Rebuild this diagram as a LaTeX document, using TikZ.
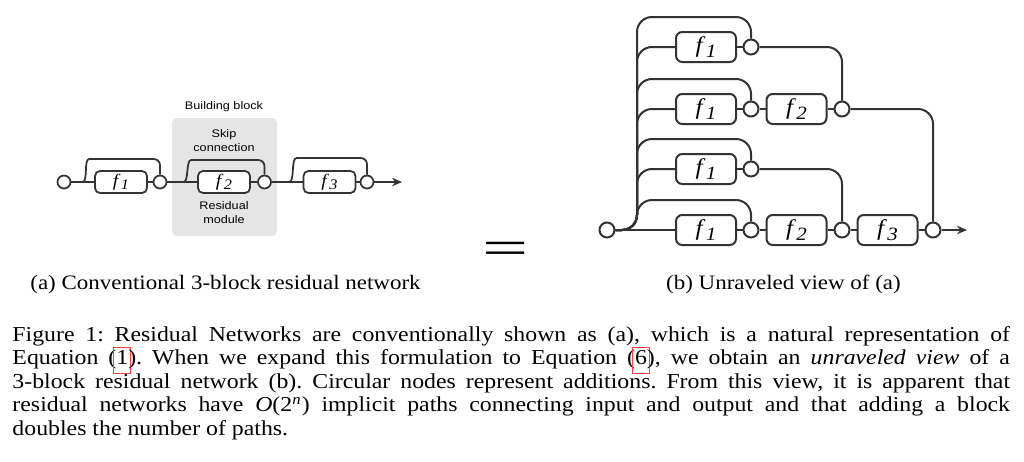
\documentclass[tikz,border=0pt]{standalone}
\usepackage{fontspec}
\setmainfont{Liberation Serif}[FakeStretch=1.12]
\setsansfont{Liberation Sans}[FakeStretch=1.15]
\usepackage{relsize}
\usetikzlibrary{arrows.meta, calc}
\newcommand{\netArrow}{{Stealth[length=4pt, width=3.4pt]}}
\newcommand{\fsub}[1]{\textit{f}\kern0.02em\raisebox{-0.45ex}{\textit{\smaller #1}}}
\newsavebox{\refbox}
\newcommand{\reflink}[1]{\sbox{\refbox}{#1}\rlap{\kern-1.2pt\smash{\raisebox{-3.4pt}{\color{red!75}\setlength{\fboxsep}{0pt}\setlength{\fboxrule}{0.35pt}\framebox[\dimexpr\wd\refbox+2.4pt\relax]{\rule{0pt}{10pt}}}}}\usebox{\refbox}}

\begin{document}
\begin{tikzpicture}[x=0.4pt, y=-0.4pt,
	lblock/.style={draw=black!80, fill=white, rounded corners=2pt, minimum width=20.8pt, minimum height=8.8pt, inner sep=0pt, font=\fontsize{7}{7}\selectfont},
	lsum/.style={draw=black!80, fill=white, circle, minimum size=5.2pt, inner sep=0pt},
	rblock/.style={draw=black!80, fill=white, rounded corners=2.5pt, minimum width=24pt, minimum height=12pt, inner sep=0pt, font=\fontsize{9}{9}\selectfont},
	rsum/.style={draw=black!80, fill=white, circle, minimum size=6pt, inner sep=0pt},
	tag/.style={font=\sffamily\fontsize{4.4}{5.6}\selectfont, align=center, inner sep=0pt},
	capfont/.style={font=\fontsize{8.5}{9.4}\selectfont\frenchspacing, inner sep=0pt}]
	\useasboundingbox (0,0) rectangle (1024,461);
	
	% (a) conventional network
	\fill[black!10, rounded corners=2pt] (172,118) rectangle (277,236);
	\node[tag] (bb) at (224,107) {Building block};
	\node[tag] (skiptag) at (224,141) {Skip\\connection};
	\node[tag] (restag) at (224,212.5) {Residual\\module};
	
	\begin{scope}[line width=0.7pt, draw=black!80]
	\node[lsum] (ain) at (64,182) {};
	\node[lblock] (af1) at (121,182) {\fsub{1}};
	\node[lsum] (as1) at (160,182) {};
	\node[lblock] (af2) at (224,182) {\fsub{2}};
	\node[lsum] (as2) at (264.5,182) {};
	\node[lblock] (af3) at (329.5,182) {\fsub{3}};
	\node[lsum] (as3) at (367,182) {};
	\coordinate (aout) at (402,182);
	
	\draw (ain) -- (af1) -- (as1) -- (af2) -- (as2) -- (af3) -- (as3);
	\draw[-\netArrow] (as3) -- (aout);
	\draw[rounded corners=2.5pt] (ain.east) -- ++(5,0) to[out=0,in=180] ++(19,-23) -| (as1.north);
	\draw[rounded corners=2.5pt] (as1.east) -- ++(10,0) to[out=0,in=180] ++(20,-22) -| (as2.north);
	\draw[rounded corners=2.5pt] (as2.east) -- ++(11,0) to[out=0,in=180] ++(20,-24) -| (as3.north);
	\end{scope}
	
	% equals sign
	\node[inner sep=0pt, font=\fontsize{19.5}{20}\selectfont] (eq) at (506,253) {\scalebox{1.5}[1]{=}};
	
	% (b) unraveled view
	\begin{scope}[line width=0.8pt, draw=black!80]
	\node[rsum] (in) at (607,230) {};
	\foreach \r/\y in {1/47, 2/109, 3/169, 4/230} {
		\node[rblock] (f1\r) at (706,\y) {\fsub{1}};
		\node[rsum] (s1\r) at (751,\y) {};
		\coordinate (k\r) at (637,\y-30);
		\draw (f1\r) -- (s1\r);
		\draw[rounded corners=6pt] (in.east) -| (k\r) -| (s1\r.north);
	}
	\foreach \r/\y in {1/47, 2/109, 3/169} {
		\coordinate (t\r) at (637,\y);
		\draw[rounded corners=6pt] (in.east) -| (t\r) -- (f1\r);
	}
	\node[rblock] (f22) at (796.5,109) {\fsub{2}};
	\node[rsum] (s22) at (842,109) {};
	\node[rblock] (f24) at (796.5,230) {\fsub{2}};
	\node[rsum] (s24) at (842,230) {};
	\node[rblock] (f34) at (887.5,230) {\fsub{3}};
	\node[rsum] (s34) at (933,230) {};
	\coordinate (out) at (967,230);
	
	\draw (in) -- (f14);
	\draw (s12) -- (f22) -- (s22);
	\draw (s14) -- (f24) -- (s24) -- (f34) -- (s34);
	\draw[-\netArrow] (s34) -- (out);
	\draw[rounded corners=6pt] (s11.east) -| (s22.north);
	\draw[rounded corners=6pt] (s13.east) -| (s24.north);
	\draw[rounded corners=6pt] (s22.east) -| (s34.north);
	\end{scope}
	
	% captions
	\node[capfont, font=\fontsize{8.2}{9.4}\selectfont, anchor=base] (capa) at (225.5,289) {(a) Conventional 3-block residual network};
	\node[capfont, font=\fontsize{8.2}{9.4}\selectfont, anchor=base] (capb) at (783.5,289) {(b) Unraveled view of (a)};
	\node[capfont, anchor=base west, text width=399pt, align=justify] (cap) at (12,341) {Figure 1: Residual Networks are conventionally shown as (a), which is a natural representation of\linebreak Equation (\reflink{1}). When we expand this formulation to Equation (\reflink{6}), we obtain an \textit{unraveled view} of a\linebreak 3-block residual network (b). Circular nodes represent additions. From this view, it is apparent that\linebreak residual networks have \textit{O}(2\textsuperscript{\textit{n}}) implicit paths connecting input and output and that adding a block\linebreak doubles the number of paths.};
\end{tikzpicture}
\end{document}
